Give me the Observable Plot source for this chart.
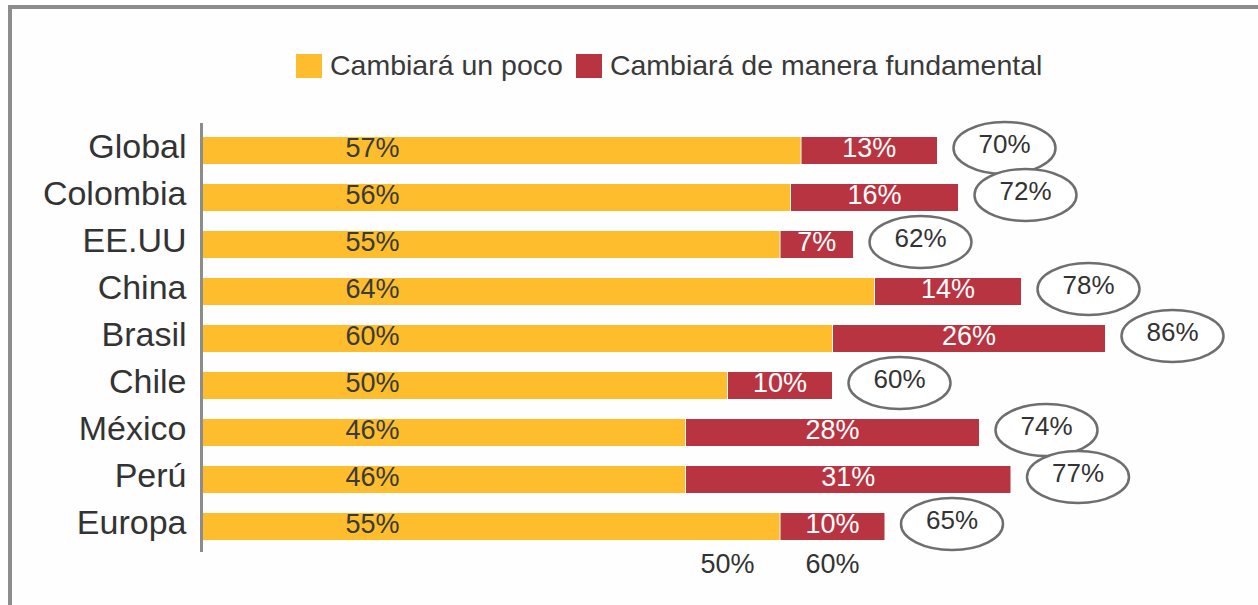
<!DOCTYPE html>
<html>
<head>
<meta charset="utf-8">
<script src="https://cdn.jsdelivr.net/npm/d3@7"></script>
<script src="https://cdn.jsdelivr.net/npm/@observablehq/plot@0.6"></script>
<style>
  html, body { margin: 0; padding: 0; background: #fefefe; }
  #wrap { position: relative; width: 1258px; height: 605px; overflow: hidden; font-family: "Liberation Sans", Arial, sans-serif; }
  #frame { position: absolute; left: 8px; top: 5px; width: 1300px; height: 700px; border-top: 4px solid #8d8d8d; border-left: 4px solid #8d8d8d; box-sizing: border-box; }
  #legend { position: relative; height: 100px; }
  #legend .items { position: absolute; left: 296px; top: 49px; display: flex; align-items: center; font-size: 28.5px; color: #3a3a3a; white-space: nowrap; }
  #legend .item { display: flex; align-items: center; margin-right: 13px; }
  #legend .sw { width: 26px; height: 24px; margin-right: 8px; }
  #chart { position: relative; }
</style>
</head>
<body>
<div id="wrap">
  <div id="frame"></div>
  <div id="legend"></div>
  <div id="chart"></div>
</div>
<script>
const categories = ["Global", "Colombia", "EE.UU", "China", "Brasil", "Chile", "México", "Perú", "Europa"];
const series = ["Cambiará un poco", "Cambiará de manera fundamental"];
const poco = [57, 56, 55, 64, 60, 50, 46, 46, 55];
const fundamental = [13, 16, 7, 14, 26, 10, 28, 31, 10];
const totals = [70, 72, 62, 78, 86, 60, 74, 77, 65];
const xTicks = [50, 60];
const colors = ["#fdbd2c", "#b93441"];

const long = categories.flatMap((c, i) => [
  {cat: c, serie: series[0], value: poco[i]},
  {cat: c, serie: series[1], value: fundamental[i]}
]);
const rows = categories.map((c, i) => ({cat: c, poco: poco[i], fund: fundamental[i], total: totals[i]}));

// legend
const items = d3.select("#legend").append("div").attr("class", "items");
series.forEach((s, i) => {
  const it = items.append("div").attr("class", "item");
  it.append("div").attr("class", "sw").style("background", colors[i]);
  it.append("span").text(s);
});

// ellipse symbol
const ellipse = {
  draw(ctx) {
    const rx = 51, ry = 26, k = 0.5522847498;
    ctx.moveTo(rx, 0);
    ctx.bezierCurveTo(rx, ry * k, rx * k, ry, 0, ry);
    ctx.bezierCurveTo(-rx * k, ry, -rx, ry * k, -rx, 0);
    ctx.bezierCurveTo(-rx, -ry * k, -rx * k, -ry, 0, -ry);
    ctx.bezierCurveTo(rx * k, -ry, rx, -ry * k, rx, 0);
    ctx.closePath();
  }
};

const chart = Plot.plot({
  width: 1258,
  height: 505,
  marginLeft: 202,
  marginRight: 6,
  marginTop: 25,
  marginBottom: 54,
  style: {fontFamily: "Liberation Sans, Arial, sans-serif", color: "#333", background: "transparent", overflow: "visible"},
  x: {domain: [0, 100]},
  y: {domain: categories, paddingInner: 0.43, paddingOuter: 0.215},
  color: {domain: series, range: colors},
  marks: [
    Plot.barX(long, {y: "cat", x: "value", fill: "serie", insetLeft: 1}),
    Plot.ruleX([0], {stroke: "#8c8c8c", strokeWidth: 3, dx: -1, insetTop: -2, insetBottom: -1}),
    Plot.text(rows, {y: "cat", frameAnchor: "left", textAnchor: "middle", dx: 170, dy: -3, text: d => d.poco + "%", fill: "#3a3a3a", fontSize: 27}),
    Plot.text(rows, {y: "cat", x: d => d.poco + d.fund / 2, dy: -3, text: d => d.fund + "%", fill: "#ffffff", fontSize: 27}),
    Plot.dot(rows, {y: "cat", x: "total", dx: 67, dy: -3, symbol: ellipse, r: 10, fill: "#ffffff", stroke: "#6e6e6e", strokeWidth: 2.5}),
    Plot.text(rows, {y: "cat", x: "total", dx: 67, dy: -6, text: d => d.total + "%", fill: "#333", fontSize: 26}),
    Plot.axisY({tickSize: 0, tickPadding: 16, fontSize: 34, dy: -4, label: null}),
    Plot.axisX({ticks: xTicks, tickSize: 0, tickPadding: 2, tickFormat: d => d + "%", fontSize: 27, label: null})
  ]
});
document.getElementById("chart").appendChild(chart);
</script>
</body>
</html>
